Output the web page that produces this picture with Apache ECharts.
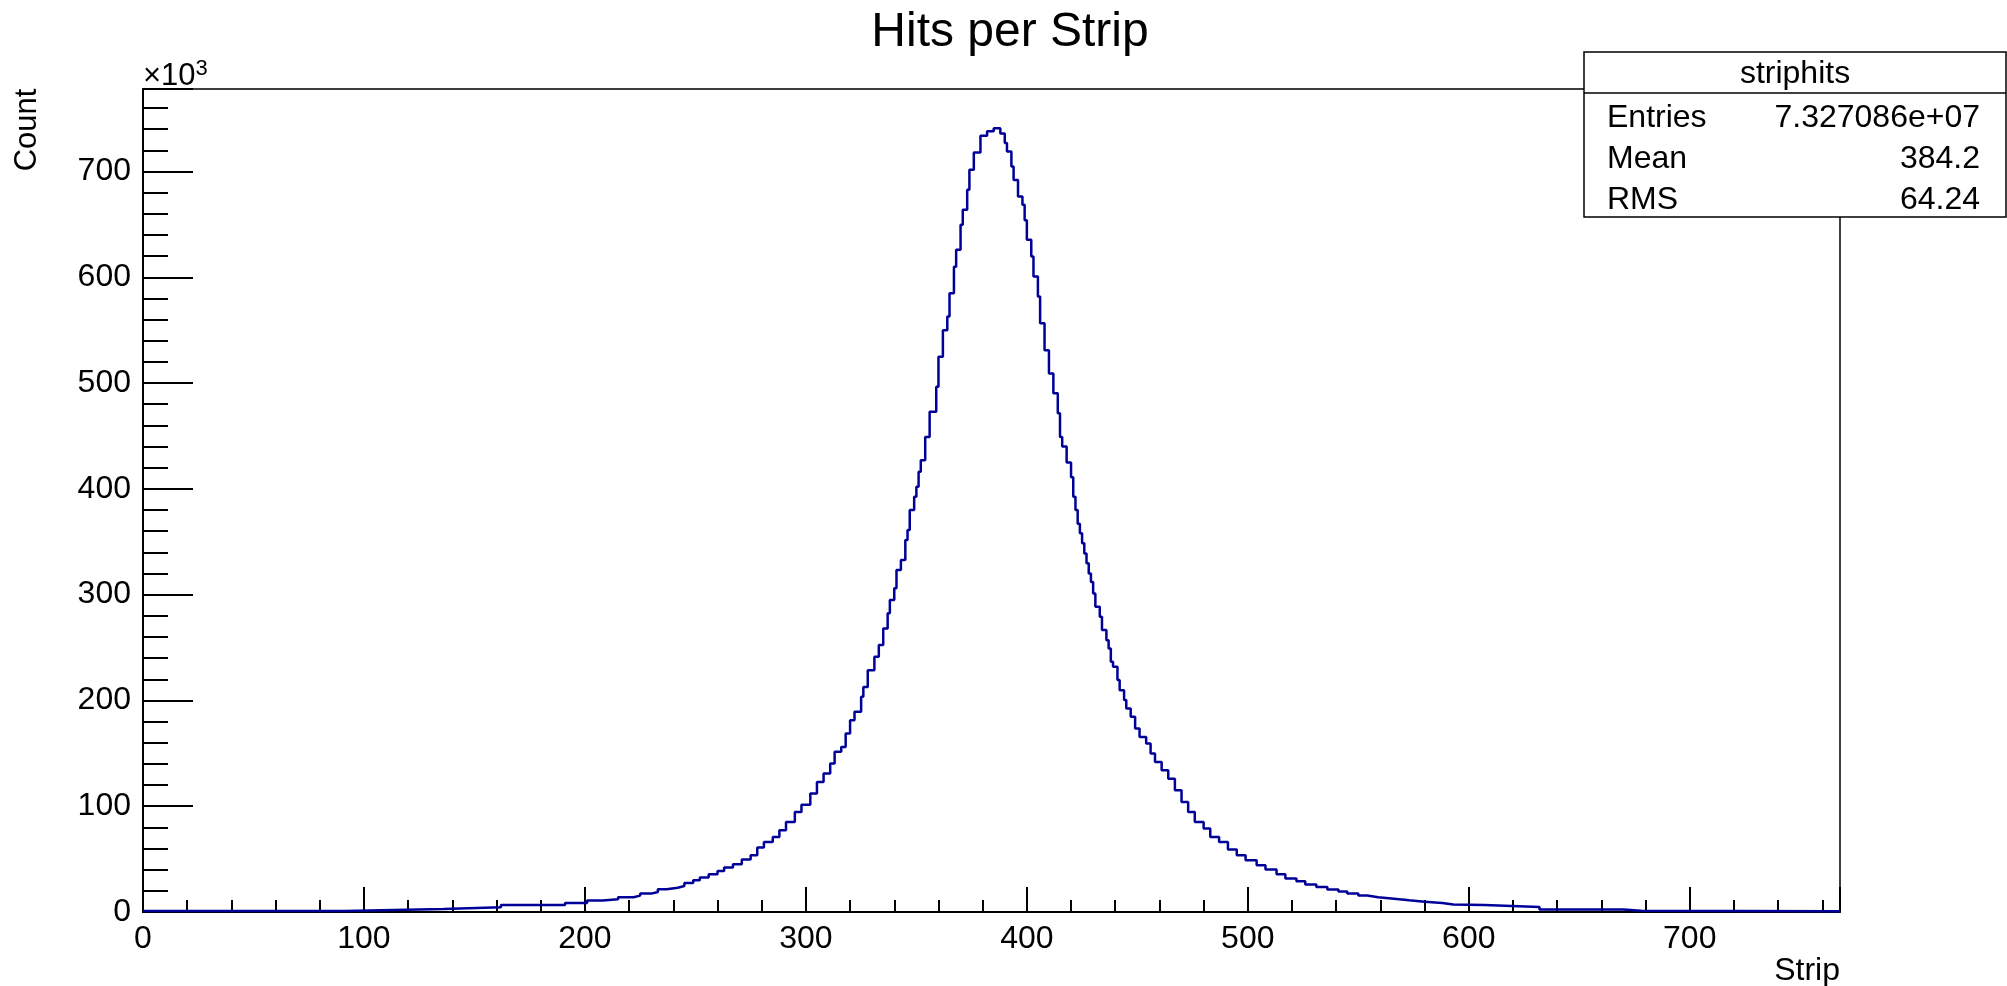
<!DOCTYPE html>
<html>
<head>
<meta charset="utf-8">
<title>Hits per Strip</title>
<script src="https://cdn.jsdelivr.net/npm/echarts@6.0.0/dist/echarts.min.js"></script>
<style>
html, body { margin: 0; padding: 0; background: #fff; }
#chart { width: 2007px; height: 986px; }
</style>
</head>
<body>
<div id="chart"></div>
<script>
// strip where each step of the histogram starts
const strips = [
  0, 91, 136, 162, 191, 201, 208, 215, 222, 225,
  230, 233, 237, 242, 245, 249, 252, 256, 260, 263,
  267, 271, 275, 278, 281, 285, 288, 291, 295, 298,
  302, 305, 308, 311, 313, 316, 318, 320, 322, 325,
  326, 328, 331, 333, 335, 337, 338, 340, 341, 343,
  345, 346, 347, 349, 350, 351, 352, 354, 356, 359,
  360, 362, 364, 365, 367, 368, 370, 371, 373, 374,
  376, 379, 382, 385, 388, 390, 391, 393, 394, 396,
  398, 399, 400, 402, 403, 405, 406, 408, 410, 412,
  414, 415, 416, 418, 420, 421, 422, 423, 424, 425,
  426, 427, 428, 429, 430, 431, 433, 434, 436, 437,
  438, 439, 441, 442, 444, 445, 447, 449, 451, 454,
  456, 458, 461, 464, 467, 470, 473, 476, 480, 483,
  487, 491, 495, 499, 504, 508, 513, 517, 522, 526,
  531, 536, 541, 545, 550, 554, 559, 565, 573, 580,
  588, 593, 607, 632, 670, 678, 768
]
// hits per strip, x10^3
const counts = [
  1.0, 2.8, 4.4, 6.6, 8.5, 10.8, 12.0, 13.9, 15.5, 17.4,
  18.9, 21.5, 23.0, 24.6, 27.4, 30.0, 32.5, 35.7, 38.8, 42.0,
  45.1, 49.6, 53.6, 60.9, 66.2, 70.9, 77.3, 85.1, 94.6, 101.5,
  112, 123, 131, 140.4, 151.4, 156, 168.8, 181.3, 189.2, 203.4,
  212.8, 228.6, 241.2, 252.3, 268.1, 282.3, 294.9, 306, 323.2, 332.7,
  351.6, 361, 380, 392.6, 402, 416.2, 427, 449, 473, 496.6,
  525, 550, 563, 585, 610, 626, 649.6, 663.8, 682.7, 701.6,
  718, 733.8, 738, 741, 736, 727, 719, 704.8, 692, 676.4,
  668.5, 654, 635.4, 619.6, 600.7, 581.8, 556.6, 531, 509, 490.4,
  471.5, 449, 440, 425, 411, 392.6, 380, 367, 358, 348.5,
  339, 329.6, 320, 312, 301, 288.5, 279, 266.5, 257, 249,
  236.5, 231.8, 219.2, 209.7, 200.3, 192.4, 184.5, 173.5, 165.5, 159.3,
  149.8, 141.9, 134, 126, 115, 104, 94.6, 85.1, 78.9, 70.9,
  66.2, 59, 53.6, 48.9, 44.2, 40.1, 35.7, 31.6, 29, 25.9,
  23.6, 21.2, 19.3, 17.4, 15.5, 13.9, 12.7, 11.1, 9.8, 8.5,
  7.0, 6.5, 4.7, 2.3, 1.2, 0.7, 0.7
]
const xTickLabels = [0, 100, 200, 300, 400, 500, 600, 700]
const yTickLabels = [0, 100, 200, 300, 400, 500, 600, 700]
const statRows = [
  ['Entries', '7.327086e+07'],
  ['Mean', '384.2'],
  ['RMS', '64.24']
]

const font = 'Liberation Sans'
const black = '#000'

const chart = echarts.init(document.getElementById('chart'))

const statTexts = []
statRows.forEach((row, i) => {
  const y = 118 + i * 41
  statTexts.push({
    type: 'text', x: 1607, y: y, z: 101,
    style: { text: row[0], font: '32px ' + font, fill: black, align: 'left', verticalAlign: 'middle' }
  })
  statTexts.push({
    type: 'text', x: 1980, y: y, z: 101,
    style: { text: row[1], font: '32px ' + font, fill: black, align: 'right', verticalAlign: 'middle' }
  })
})

const options = {
  animation: false,
  title: {
    text: 'Hits per Strip',
    left: 1005,
    top: 4,
    textAlign: 'center',
    textStyle: { fontFamily: font, fontSize: 48, fontWeight: 'normal', color: black }
  },
  grid: {
    left: 143,
    right: 167,
    top: 89,
    bottom: 74,
    show: true,
    borderColor: black,
    borderWidth: 1.5
  },
  xAxis: {
    type: 'value',
    min: 0,
    max: 768,
    interval: 100,
    axisLine: { show: true, onZero: false, lineStyle: { color: black, width: 2 } },
    axisTick: { show: true, inside: true, length: 25, lineStyle: { color: black, width: 2 } },
    minorTick: { show: true, splitNumber: 5, length: 12, lineStyle: { color: black, width: 2 } },
    splitLine: { show: false },
    axisLabel: {
      margin: 11,
      fontFamily: font,
      fontSize: 32,
      color: black,
      formatter: v => xTickLabels.includes(v) ? String(v) : ''
    }
  },
  yAxis: {
    type: 'value',
    min: 0,
    max: 778,
    interval: 100,
    axisLine: { show: true, lineStyle: { color: black, width: 2 } },
    axisTick: { show: true, inside: true, length: 50, lineStyle: { color: black, width: 2 } },
    minorTick: { show: true, splitNumber: 5, length: 25, lineStyle: { color: black, width: 2 } },
    splitLine: { show: false },
    axisLabel: {
      margin: 12,
      fontFamily: font,
      fontSize: 32,
      color: black,
      formatter: v => yTickLabels.includes(v) ? String(v) : ''
    }
  },
  graphic: [
    {
      type: 'text', x: 143, y: 58,
      style: {
        text: '×10{s|3}',
        font: '31px ' + font,
        fill: black,
        rich: { s: { fontSize: 22, fontFamily: font, verticalAlign: 'top', padding: [0, 0, 14, 0] } }
      }
    },
    {
      type: 'text', x: 27, y: 130, rotation: Math.PI / 2,
      style: { text: 'Count', font: '31px ' + font, fill: black, align: 'center', verticalAlign: 'middle' }
    },
    {
      type: 'text', x: 1840, y: 971,
      style: { text: 'Strip', font: '32px ' + font, fill: black, align: 'right', verticalAlign: 'middle' }
    },
    {
      type: 'rect', z: 100,
      shape: { x: 1584, y: 52, width: 422, height: 165 },
      style: { fill: '#fff', stroke: black, lineWidth: 1.5 }
    },
    {
      type: 'line', z: 101,
      shape: { x1: 1584, y1: 93, x2: 2006, y2: 93 },
      style: { stroke: black, lineWidth: 1.5 }
    },
    {
      type: 'text', x: 1795, y: 74, z: 101,
      style: { text: 'striphits', font: '32px ' + font, fill: black, align: 'center', verticalAlign: 'middle' }
    }
  ].concat(statTexts),
  series: [
    {
      type: 'line',
      step: 'end',
      symbol: 'none',
      data: strips.map((s, i) => [s, counts[i]]),
      lineStyle: { color: '#000099', width: 2.5 }
    }
  ]
}

chart.setOption(options)
</script>
</body>
</html>
